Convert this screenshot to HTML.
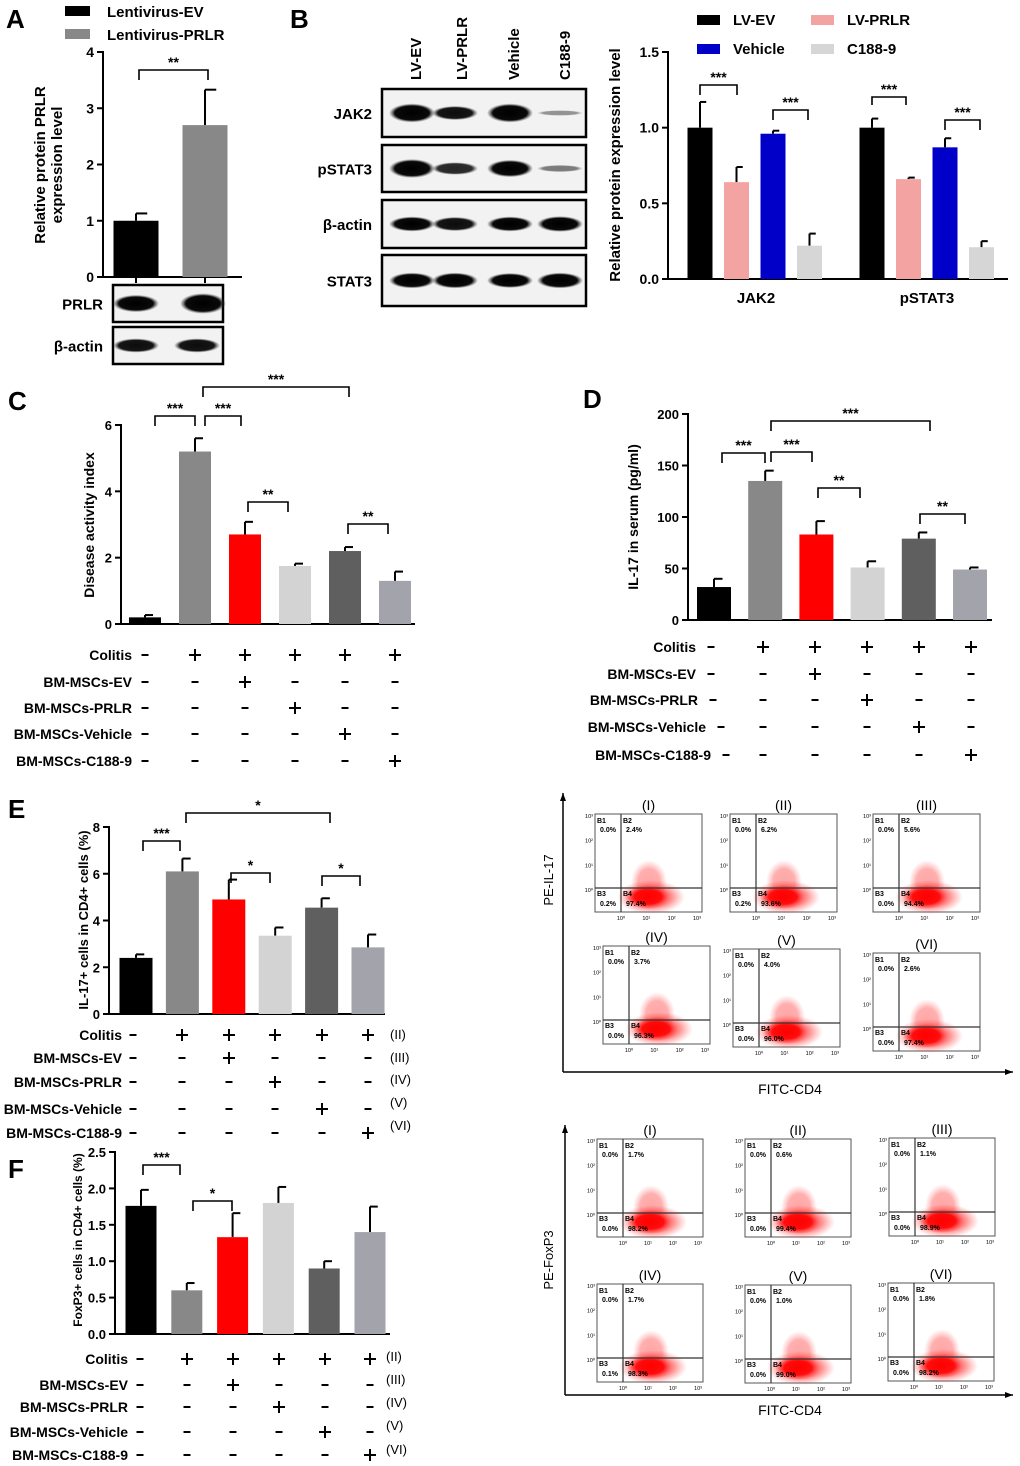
<!DOCTYPE html>
<html><head><meta charset="utf-8"><style>
body{margin:0;background:#fff}
svg{display:block;font-family:"Liberation Sans",Arial,sans-serif;font-weight:bold}
</style></head><body>
<svg id="s" width="1020" height="1466" viewBox="0 0 1020 1466" xmlns="http://www.w3.org/2000/svg">
<defs>
<radialGradient id="cloud"><stop offset="0" stop-color="#f00" stop-opacity="1"/><stop offset="0.6" stop-color="#f00" stop-opacity="0.9"/><stop offset="1" stop-color="#f33" stop-opacity="0"/></radialGradient>
<radialGradient id="band"><stop offset="0" stop-color="#000"/><stop offset="0.75" stop-color="#0a0a0a"/><stop offset="1" stop-color="#444" stop-opacity="0"/></radialGradient>
</defs>
<g id="root"></g>
</svg>
<script>
// ---------- DATA ----------
const aCats=["Lentivirus-EV","Lentivirus-PRLR"];
const aVals=[1.0,2.7];
const aErr=[0.13,0.63];
const aTicks=[0,1,2,3,4];

const bGroups=["JAK2","pSTAT3"];
const bSeries=["LV-EV","LV-PRLR","Vehicle","C188-9"];
const bVals=[[1.0,0.64,0.96,0.22],[1.0,0.66,0.87,0.21]];
const bErr=[[0.17,0.10,0.02,0.08],[0.06,0.01,0.06,0.04]];
const bTicks=["0.0","0.5","1.0","1.5"];

const cVals=[0.2,5.2,2.7,1.75,2.2,1.3];
const cErr=[0.07,0.4,0.38,0.07,0.12,0.28];
const cTicks=[0,2,4,6];
const dVals=[32,135,83,51,79,49];
const dErr=[8,10,13,6,6,2];
const dTicks=[0,50,100,150,200];
const eVals=[2.4,6.1,4.9,3.35,4.55,2.85];
const eErr=[0.15,0.55,0.85,0.35,0.4,0.55];
const eTicks=[0,2,4,6,8];
const fVals=[1.76,0.6,1.33,1.8,0.9,1.4];
const fErr=[0.22,0.1,0.33,0.22,0.1,0.35];
const fTicks=["0.0","0.5","1.0","1.5","2.0","2.5"];

const rowLabels=["Colitis","BM-MSCs-EV","BM-MSCs-PRLR","BM-MSCs-Vehicle","BM-MSCs-C188-9"];
const rowSigns=[["-","+","+","+","+","+"],["-","-","+","-","-","-"],["-","-","-","+","-","-"],["-","-","-","-","+","-"],["-","-","-","-","-","+"]];
const romans=["(I)","(II)","(III)","(IV)","(V)","(VI)"];
const eFlow=[["0.0%","2.4%","0.2%","97.4%"],["0.0%","6.2%","0.2%","93.6%"],["0.0%","5.6%","0.0%","94.4%"],["0.0%","3.7%","0.0%","96.3%"],["0.0%","4.0%","0.0%","96.0%"],["0.0%","2.6%","0.0%","97.4%"]];
const fFlow=[["0.0%","1.7%","0.0%","98.2%"],["0.0%","0.6%","0.0%","99.4%"],["0.0%","1.1%","0.0%","98.9%"],["0.0%","1.7%","0.1%","98.3%"],["0.0%","1.0%","0.0%","99.0%"],["0.0%","1.8%","0.0%","98.2%"]];

const groupColors=["#000","#888","#f00","#d3d3d3","#5f5f5f","#a3a3ab"];
const bColors=["#000","#f4a3a3","#0000c8","#d6d6d6"];

// ---------- HELPERS ----------
const NS="http://www.w3.org/2000/svg";
const root=document.getElementById('root');
function el(tag,attrs,parent,txt){const e=document.createElementNS(NS,tag);for(const k in attrs)e.setAttribute(k,attrs[k]);if(txt!==undefined)e.textContent=txt;(parent||root).appendChild(e);return e;}
function line(x1,y1,x2,y2,w,p){return el('line',{x1,y1,x2,y2,stroke:'#000','stroke-width':w||2},p);}
function text(x,y,t,size,anchor,p,extra){const a={x,y,'font-size':size||14,'text-anchor':anchor||'start',fill:'#000'};if(extra)for(const k in extra)a[k]=extra[k];return el('text',a,p,t);}
function panelLetter(x,y,t){const e=text(x,y,t,26,'start');}
function yScale(cfg,v){return cfg.y0-(v/cfg.max)*(cfg.y0-cfg.yTop);}
function axes(cfg,name){
  const g=el('g',{});
  
  
  line(cfg.x,cfg.yTop-1,cfg.x,cfg.y0,2,g);
  line(cfg.x,cfg.y0,cfg.xEnd,cfg.y0,2,g);
  cfg.ticks.forEach(t=>{const y=yScale(cfg,parseFloat(t));line(cfg.x-6,y,cfg.x,y,2,g);const tt=text(cfg.x-9,y+5,String(t),cfg.tickSize||13,'end',g);});
  const yt=text(0,0,'',cfg.titleSize||14,'middle',g,{transform:`translate(${cfg.titleX},${cfg.titleY}) rotate(-90)`});
  
  
  cfg.title.forEach((l,i)=>{el('tspan',{x:0,dy:i?17:0},yt,l);});
  return g;
}
function barsErr(cfg,vals,errs,colors,name){
  const g=el('g',{});
  
  
  vals.forEach((v,i)=>{
    const cx=cfg.cx(i),y=yScale(cfg,v),ye=yScale(cfg,v+errs[i]);
    line(cx,ye,cx,y,2,g);line(cx,ye,cx+cfg.bw/4,ye,2,g);
    const r=el('rect',{x:cx-cfg.bw/2,y:y,width:cfg.bw,height:cfg.y0-y,fill:colors[i]},g);
    
    
    if(cfg.tickBelow)line(cx,cfg.y0,cx,cfg.y0+6,2,g);
  });
}
function bracket(x1,x2,y,drop,label,size){
  const g=el('g',{});
  
  
  el('polyline',{points:`${x1},${y+drop} ${x1},${y} ${x2},${y} ${x2},${y+drop}`,fill:'none',stroke:'#000','stroke-width':1.6},g);
  text((x1+x2)/2,y-3,label,size||14,'middle',g);
}
function signRows(xs,ys,labelX,labelXs,name,dashGap,size){
  const g=el('g',{});
  
  
  rowLabels.forEach((l,r)=>{
    const lx=labelXs?labelXs[r]:labelX;
    const t=text(lx,ys[r]+5,l,size||14,'end',g);
    
    
    rowSigns[r].forEach((s,c)=>{
      const x=c===0?lx+dashGap:xs[c];
      if(s==='+'){line(x-6,ys[r],x+6,ys[r],2,g);line(x,ys[r]-6,x,ys[r]+6,2,g);}
      else line(x-3.5,ys[r],x+3.5,ys[r],2,g);
    });
  });
}
function blot(x,y,w,h,label,lanes,intens,name,lx){
  const g=el('g',{});
  
  
  el('rect',{x,y,width:w,height:h,fill:'#f2f2f2',stroke:'#000','stroke-width':2.5},g);
  lanes.forEach((c,i)=>{const k=intens[i];el('ellipse',{cx:c,cy:y+h/2,rx:23,ry:8*k+1.5,fill:'url(#band)',opacity:Math.min(1,0.25+k)},g);});
  text(lx,y+h/2+6,label,15,'end',g);
}
function flowPlot(bx,by,w,h,title,vals,name){
  const g=el('g',{});
  
  
  el('rect',{x:bx,y:by,width:w,height:h,fill:'#fff',stroke:'#555','stroke-width':1},g);
  const qx=bx+26,qy=by+Math.round(h*0.76);
  el('ellipse',{cx:qx+28,cy:qy-6,rx:18,ry:22,fill:'url(#cloud)',opacity:0.35},g);
  el('ellipse',{cx:qx+30,cy:qy+9,rx:34,ry:17,fill:'url(#cloud)',opacity:0.5},g);
  el('ellipse',{cx:qx+27,cy:qy+9,rx:23,ry:12,fill:'url(#cloud)'},g);
  line(qx,by,qx,by+h,1.2,g).setAttribute('stroke','#333');
  line(bx,qy,bx+w,qy,1.2,g).setAttribute('stroke','#333');
  text(bx+w/2,by-4,title,14,'middle',g,{'font-weight':'normal'});
  const fs=7;
  text(bx+2,by+9,'B1',fs,'start',g);text(qx+2,by+9,'B2',fs,'start',g);
  text(bx+5,by+18,vals[0],fs,'start',g);text(qx+5,by+18,vals[1],fs,'start',g);
  text(bx+2,qy+8,'B3',fs,'start',g);text(qx+2,qy+8,'B4',fs,'start',g);
  text(bx+5,qy+18,vals[2],fs,'start',g);text(qx+5,qy+18,vals[3],fs,'start',g);
  ['10³','10²','10¹','10⁰'].forEach((t,i)=>{text(bx-2,by+4+i*(qy-by)/3,t,5.5,'end',g,{'font-weight':'normal'});});
  ['10⁰','10¹','10²','10³'].forEach((t,i)=>{text(qx+i*(w-26)/3.2,by+h+8,t,5.5,'middle',g,{'font-weight':'normal'});});
}
function flowFrame(x,yTop,yBot,xEnd,ylab,ylabY,xlabY,name){
  const g=el('g',{});
  
  
  line(x,yTop,x,yBot,1.5,g);line(x,yBot,xEnd,yBot,1.5,g);
  el('polygon',{points:`${x-3},${yTop+8} ${x},${yTop} ${x+3},${yTop+8}`,fill:'#000'},g);
  el('polygon',{points:`${xEnd-8},${yBot-3} ${xEnd},${yBot} ${xEnd-8},${yBot+3}`,fill:'#000'},g);
  text(0,0,ylab,13,'middle',g,{'font-weight':'normal',transform:`translate(553,${ylabY}) rotate(-90)`});
  text(790,xlabY,'FITC-CD4',14,'middle',g,{'font-weight':'normal'});
}

// ---------- PANEL A ----------
panelLetter(6,28,'A');
el('rect',{x:65,y:6,width:25,height:10,fill:'#000'});
text(107,17,aCats[0],15);
el('rect',{x:65,y:29,width:25,height:10,fill:'#888'});
text(107,40,aCats[1],15);
const A={x:103,xEnd:242,y0:277,yTop:52,max:4,ticks:aTicks,bw:45,cx:i=>136+i*69,title:["Relative protein PRLR","expression level"],titleX:45,titleY:165,titleSize:15,tickBelow:true,tickSize:14};
axes(A,'panel-a');
barsErr(A,aVals,aErr,["#000","#888"],'panel-a');
bracket(139,208,70,10,'**');
blot(113,285,110,37,'PRLR',[136,203],[0.9,1.1],'prlr-blot',103);
blot(113,327,110,37,'β-actin',[136,197],[0.7,0.7],'actin-blot-a',103);

// ---------- PANEL B blots ----------
panelLetter(290,28,'B');
const laneX=[412,455,510,560];
bSeries.forEach((s,i)=>{const t=text(0,0,s,15,'start',null,{transform:`translate(${[421,467,519,570][i]},80) rotate(-90)`});});
blot(382,89,204,48,'JAK2',laneX,[1,0.7,1,0.15],'jak2-blot',372);
blot(382,145,204,47,'pSTAT3',laneX,[1,0.6,0.9,0.25],'pstat3-blot',372);
blot(382,200,204,48,'β-actin',laneX,[0.75,0.7,0.75,0.8],'actin-blot-b',372);
blot(382,255,204,51,'STAT3',laneX,[0.8,0.8,0.75,0.8],'stat3-blot',372);

// ---------- PANEL B chart ----------
[[697,15,0],[811,15,1],[697,44,2],[811,44,3]].forEach(([x,y,i])=>{el('rect',{x,y,width:23,height:10,fill:bColors[i]});text(x+36,y+10,bSeries[i],15);});
const B={x:668,xEnd:1008,y0:279,yTop:52,max:1.5,ticks:bTicks,bw:25,cx:i=>0,title:["Relative protein  expression level"],titleX:620,titleY:165,titleSize:15,tickSize:14};
axes(B,'panel-b');
bGroups.forEach((gname,gi)=>{
  const cfg=Object.assign({},B,{cx:i=>700+gi*172+i*36.5});
  barsErr(cfg,bVals[gi],bErr[gi],bColors,'panel-b-'+gname.toLowerCase());
  const t=text(756+gi*171,303,gname,15,'middle');
});
bracket(700,737,85,10,'***');
bracket(773,808,110,10,'***');
bracket(872,906,97,8,'***');
bracket(945,980,120,10,'***');

// ---------- PANEL C ----------
panelLetter(8,410,'C');
const C={x:121,xEnd:415,y0:624,yTop:425,max:6,ticks:cTicks,bw:32,cx:i=>145+i*50,title:["Disease activity index"],titleX:94,titleY:525};
axes(C,'panel-c');
barsErr(C,cVals,cErr,groupColors,'panel-c');
bracket(155,195,416,10,'***');bracket(205,241,416,10,'***');bracket(203,349,387,10,'***');
bracket(248,288,502,10,'**');bracket(348,388,524,10,'**');
signRows([0,195,245,295,345,395],[655,682,708,734,761],132,null,'panel-c',13);

// ---------- PANEL D ----------
panelLetter(583,408,'D');
const D={x:688,xEnd:992,y0:620,yTop:414,max:200,ticks:dTicks,bw:34,cx:i=>714+i*51.2,title:["IL-17 in serum (pg/ml)"],titleX:638,titleY:517};
axes(D,'panel-d');
barsErr(D,dVals,dErr,groupColors,'panel-d');
bracket(722,765,453,10,'***');bracket(771,812,452,10,'***');bracket(771,930,421,10,'***');
bracket(818,860,488,10,'**');bracket(920,965,514,10,'**');
signRows([0,763,815,867,919,971],[647,674,700,727,755],null,[696,696,698,706,711],'panel-d',15);

// ---------- PANEL E ----------
panelLetter(8,818,'E');
const E={x:109,xEnd:385,y0:1014,yTop:827,max:8,ticks:eTicks,bw:33,cx:i=>136+i*46.4,title:["IL-17+ cells in CD4+ cells (%)"],titleX:88,titleY:920,titleSize:13};
axes(E,'panel-e');
barsErr(E,eVals,eErr,groupColors,'panel-e');
bracket(143,180,841,10,'***');bracket(186,330,813,10,'*');bracket(231,270,873,10,'*');bracket(322,360,876,10,'*');
signRows([0,182,229,275,322,368],[1035,1058,1082,1109,1133],122,null,'panel-e',11);
romans.slice(1).forEach((r,i)=>{text(390,[1039,1062,1084,1107,1130][i],r,13,'start',null,{'font-weight':'normal'});});

flowFrame(563,793,1072,1013,'PE-IL-17',880,1094,'panel-e-flow-frame');
[[595,814],[730,814],[873,814],[603,946],[733,949],[873,953]].forEach(([x,y],i)=>flowPlot(x,y,107,98,romans[i],eFlow[i],'il17-flow-plot-'+(i+1)));

// ---------- PANEL F ----------
panelLetter(8,1178,'F');
const F={x:115,xEnd:390,y0:1334,yTop:1152,max:2.5,ticks:fTicks,bw:31,cx:i=>141+i*45.8,title:["FoxP3+ cells in CD4+ cells (%)"],titleX:82,titleY:1240,titleSize:12};
axes(F,'panel-f');
barsErr(F,fVals,fErr,groupColors,'panel-f');
bracket(143,180,1165,10,'***');bracket(193,232,1201,10,'*');
signRows([0,187,233,279,325,370],[1359,1385,1407,1432,1455],128,null,'panel-f',12);
romans.slice(1).forEach((r,i)=>{text(386,[1361,1384,1407,1430,1454][i],r,13,'start',null,{'font-weight':'normal'});});

flowFrame(565,1125,1395,1013,'PE-FoxP3',1260,1415,'panel-f-flow-frame');
[[597,1139],[745,1139],[889,1138],[597,1284],[745,1285],[888,1283]].forEach(([x,y],i)=>flowPlot(x,y,106,98,romans[i],fFlow[i],'foxp3-flow-plot-'+(i+1)));
</script>
</body></html>
